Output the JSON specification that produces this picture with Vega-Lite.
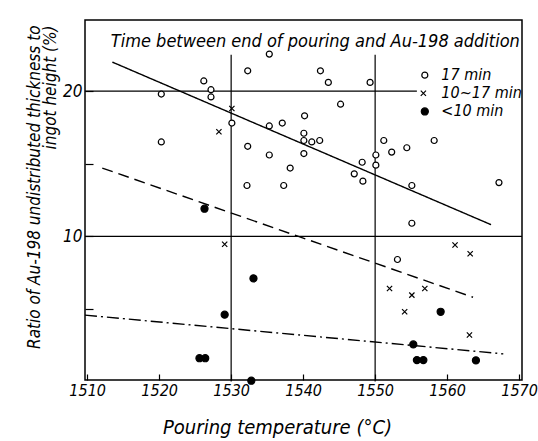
{
  "$schema": "https://vega.github.io/schema/vega-lite/v6.json",
  "width": 437,
  "height": 360,
  "autosize": "none",
  "padding": {"left": 85, "top": 20, "right": 16, "bottom": 61},
  "background": "white",
  "config": {
    "view": {"stroke": "black", "strokeWidth": 1.5},
    "font": "DejaVu Sans Condensed",
    "axis": {"labelFont": "DejaVu Sans Condensed", "titleFont": "DejaVu Sans Condensed", "labelFontStyle": "italic", "titleFontStyle": "italic", "titleFontWeight": "normal", "labelColor": "black", "titleColor": "black", "grid": false, "domain": false},
    "text": {"font": "DejaVu Sans Condensed", "fontStyle": "italic", "color": "black"}
  },
  "datasets": {
    "points": [
      {"t": 1535.3, "r": 22.55, "g": "17 min"},
      {"t": 1532.3, "r": 21.4, "g": "17 min"},
      {"t": 1526.2, "r": 20.7, "g": "17 min"},
      {"t": 1527.2, "r": 20.1, "g": "17 min"},
      {"t": 1527.2, "r": 19.6, "g": "17 min"},
      {"t": 1520.3, "r": 19.8, "g": "17 min"},
      {"t": 1530.1, "r": 17.8, "g": "17 min"},
      {"t": 1520.3, "r": 16.5, "g": "17 min"},
      {"t": 1532.3, "r": 16.2, "g": "17 min"},
      {"t": 1535.3, "r": 17.6, "g": "17 min"},
      {"t": 1537.1, "r": 17.8, "g": "17 min"},
      {"t": 1535.3, "r": 15.6, "g": "17 min"},
      {"t": 1538.2, "r": 14.7, "g": "17 min"},
      {"t": 1532.2, "r": 13.5, "g": "17 min"},
      {"t": 1537.3, "r": 13.5, "g": "17 min"},
      {"t": 1542.4, "r": 21.4, "g": "17 min"},
      {"t": 1543.5, "r": 20.6, "g": "17 min"},
      {"t": 1549.3, "r": 20.6, "g": "17 min"},
      {"t": 1545.2, "r": 19.1, "g": "17 min"},
      {"t": 1540.2, "r": 18.3, "g": "17 min"},
      {"t": 1540.1, "r": 17.1, "g": "17 min"},
      {"t": 1540.1, "r": 16.6, "g": "17 min"},
      {"t": 1541.2, "r": 16.5, "g": "17 min"},
      {"t": 1542.3, "r": 16.6, "g": "17 min"},
      {"t": 1540.1, "r": 15.7, "g": "17 min"},
      {"t": 1551.2, "r": 16.6, "g": "17 min"},
      {"t": 1552.3, "r": 15.8, "g": "17 min"},
      {"t": 1554.4, "r": 16.1, "g": "17 min"},
      {"t": 1558.2, "r": 16.6, "g": "17 min"},
      {"t": 1550.1, "r": 15.6, "g": "17 min"},
      {"t": 1550.1, "r": 14.9, "g": "17 min"},
      {"t": 1548.2, "r": 15.1, "g": "17 min"},
      {"t": 1547.1, "r": 14.3, "g": "17 min"},
      {"t": 1548.3, "r": 13.8, "g": "17 min"},
      {"t": 1555.1, "r": 13.5, "g": "17 min"},
      {"t": 1567.2, "r": 13.7, "g": "17 min"},
      {"t": 1555.1, "r": 10.9, "g": "17 min"},
      {"t": 1553.1, "r": 8.4, "g": "17 min"},
      {"t": 1530.1, "r": 18.8, "g": "10~17 min"},
      {"t": 1528.3, "r": 17.2, "g": "10~17 min"},
      {"t": 1529.1, "r": 9.45, "g": "10~17 min"},
      {"t": 1561.1, "r": 9.4, "g": "10~17 min"},
      {"t": 1563.2, "r": 8.8, "g": "10~17 min"},
      {"t": 1552.0, "r": 6.4, "g": "10~17 min"},
      {"t": 1555.1, "r": 5.95, "g": "10~17 min"},
      {"t": 1556.9, "r": 6.4, "g": "10~17 min"},
      {"t": 1554.1, "r": 4.8, "g": "10~17 min"},
      {"t": 1563.1, "r": 3.2, "g": "10~17 min"},
      {"t": 1526.3, "r": 11.9, "g": "<10 min"},
      {"t": 1533.1, "r": 7.1, "g": "<10 min"},
      {"t": 1529.1, "r": 4.6, "g": "<10 min"},
      {"t": 1525.6, "r": 1.6, "g": "<10 min"},
      {"t": 1526.4, "r": 1.6, "g": "<10 min"},
      {"t": 1532.8, "r": 0.05, "g": "<10 min"},
      {"t": 1559.1, "r": 4.8, "g": "<10 min"},
      {"t": 1555.3, "r": 2.55, "g": "<10 min"},
      {"t": 1555.8, "r": 1.47, "g": "<10 min"},
      {"t": 1556.7, "r": 1.47, "g": "<10 min"},
      {"t": 1564.0, "r": 1.45, "g": "<10 min"}
    ],
    "fits": [
      {"t": 1513.5, "r": 22.0, "g": "17 min"},
      {"t": 1566.1, "r": 10.8, "g": "17 min"},
      {"t": 1512.1, "r": 14.7, "g": "10~17 min"},
      {"t": 1563.6, "r": 5.8, "g": "10~17 min"},
      {"t": 1509.7, "r": 4.57, "g": "<10 min"},
      {"t": 1567.8, "r": 1.9, "g": "<10 min"}
    ],
    "vgrid": [{"t": 1530}, {"t": 1550}],
    "hgrid": [{"r": 20, "from": 1509.7, "to": 1555.8}, {"r": 10, "from": 1509.7, "to": 1570.4}],
    "one": [{"label": "Time between end of pouring and Au-198 addition"}]
  },
  "layer": [
    {
      "data": {"name": "vgrid"},
      "mark": {"type": "rule", "color": "black", "strokeWidth": 1.2},
      "encoding": {
        "x": {"field": "t", "type": "quantitative", "scale": {"domain": [1509.7, 1570.4], "nice": false, "zero": false},
              "axis": {"values": [1510, 1520, 1530, 1540, 1550, 1560, 1570], "format": "d", "labelFontSize": 16, "labelFontStyle": "italic", "tickSize": -6, "tickColor": "black", "tickWidth": 1.2, "ticks": true, "labelPadding": 8, "title": "Pouring temperature  (°C)", "titleFontSize": 20, "titlePadding": 19, "titleX": 192}},
        "y": {"datum": 0, "type": "quantitative"},
        "y2": {"datum": 22.5}
      }
    },
    {
      "data": {"name": "hgrid"},
      "mark": {"type": "rule", "color": "black", "strokeWidth": 1.2},
      "encoding": {
        "x": {"field": "from", "type": "quantitative"},
        "x2": {"field": "to"},
        "y": {"field": "r", "type": "quantitative", "scale": {"domain": [0.1, 24.9], "nice": false, "zero": false},
              "axis": {"values": [5, 10, 15, 20], "labelExpr": "datum.value % 10 == 0 ? datum.label : ''", "labelFontSize": 17, "labelFontStyle": "italic", "tickSize": -8, "tickColor": "black", "tickWidth": 1.2, "labelPadding": 11,
                       "title": ["Ratio of Au-198 undistributed thickness to", "ingot height (%)"], "titleFontSize": 17, "titleAlign": "right", "titleAnchor": "end", "titleAngle": -90, "titleX": -42, "titleY": 5, "titleBaseline": "bottom", "titleLineHeight": 16}}
      }
    },
    {
      "data": {"name": "fits"},
      "mark": {"type": "line", "color": "black", "strokeWidth": 1.4},
      "encoding": {
        "x": {"field": "t", "type": "quantitative"},
        "y": {"field": "r", "type": "quantitative"},
        "detail": {"field": "g"},
        "strokeDash": {"field": "g", "type": "nominal", "legend": null,
                       "scale": {"domain": ["17 min", "10~17 min", "<10 min"], "range": [[1, 0], [11, 6], [12, 4, 2, 4]]}}
      }
    },
    {
      "data": {"name": "points"},
      "mark": {"type": "point", "stroke": "black", "strokeWidth": 1.2, "opacity": 1, "clip": false},
      "encoding": {
        "x": {"field": "t", "type": "quantitative"},
        "y": {"field": "r", "type": "quantitative"},
        "shape": {"field": "g", "type": "nominal", "legend": null,
                  "scale": {"domain": ["17 min", "10~17 min", "<10 min"], "range": ["circle", "M-0.8,-0.8L0.8,0.8M-0.8,0.8L0.8,-0.8", "circle"]}},
        "fill": {"field": "g", "type": "nominal", "legend": null,
                 "scale": {"domain": ["17 min", "10~17 min", "<10 min"], "range": ["white", "black", "black"]}},
        "size": {"field": "g", "type": "nominal", "legend": null,
                 "scale": {"domain": ["17 min", "10~17 min", "<10 min"], "range": [36, 50, 44]}}
      }
    },
    {
      "data": {"name": "one"},
      "mark": {"type": "text", "align": "right", "baseline": "alphabetic", "fontSize": 18},
      "encoding": {
        "x": {"datum": 1570.1, "type": "quantitative"},
        "y": {"datum": 23.05, "type": "quantitative"},
        "text": {"field": "label"}
      }
    },
    {
      "data": {"name": "one"},
      "mark": {"type": "point", "stroke": "black", "strokeWidth": 1.2, "opacity": 1},
      "encoding": {
        "x": {"datum": 1556.9, "type": "quantitative"},
        "y": {"datum": 21.1, "type": "quantitative"},
        "shape": {"datum": "17 min"}, "fill": {"datum": "17 min"}, "size": {"datum": "17 min"}
      }
    },
    {
      "data": {"name": "one"},
      "mark": {"type": "point", "stroke": "black", "strokeWidth": 1.2, "opacity": 1},
      "encoding": {
        "x": {"datum": 1556.7, "type": "quantitative"},
        "y": {"datum": 19.85, "type": "quantitative"},
        "shape": {"datum": "10~17 min"}, "fill": {"datum": "10~17 min"}, "size": {"datum": "10~17 min"}
      }
    },
    {
      "data": {"name": "one"},
      "mark": {"type": "point", "stroke": "black", "strokeWidth": 1.2, "opacity": 1},
      "encoding": {
        "x": {"datum": 1556.9, "type": "quantitative"},
        "y": {"datum": 18.6, "type": "quantitative"},
        "shape": {"datum": "<10 min"}, "fill": {"datum": "<10 min"}, "size": {"datum": "<10 min"}
      }
    },
    {
      "data": {"name": "one"},
      "mark": {"type": "text", "align": "left", "baseline": "middle", "fontSize": 16, "text": "17 min"},
      "encoding": {"x": {"datum": 1559.2, "type": "quantitative"}, "y": {"datum": 21.1, "type": "quantitative"}}
    },
    {
      "data": {"name": "one"},
      "mark": {"type": "text", "align": "left", "baseline": "middle", "fontSize": 16, "text": "10~17 min"},
      "encoding": {"x": {"datum": 1559.2, "type": "quantitative"}, "y": {"datum": 19.85, "type": "quantitative"}}
    },
    {
      "data": {"name": "one"},
      "mark": {"type": "text", "align": "left", "baseline": "middle", "fontSize": 16, "text": "<10 min"},
      "encoding": {"x": {"datum": 1559.2, "type": "quantitative"}, "y": {"datum": 18.6, "type": "quantitative"}}
    }
  ]
}
